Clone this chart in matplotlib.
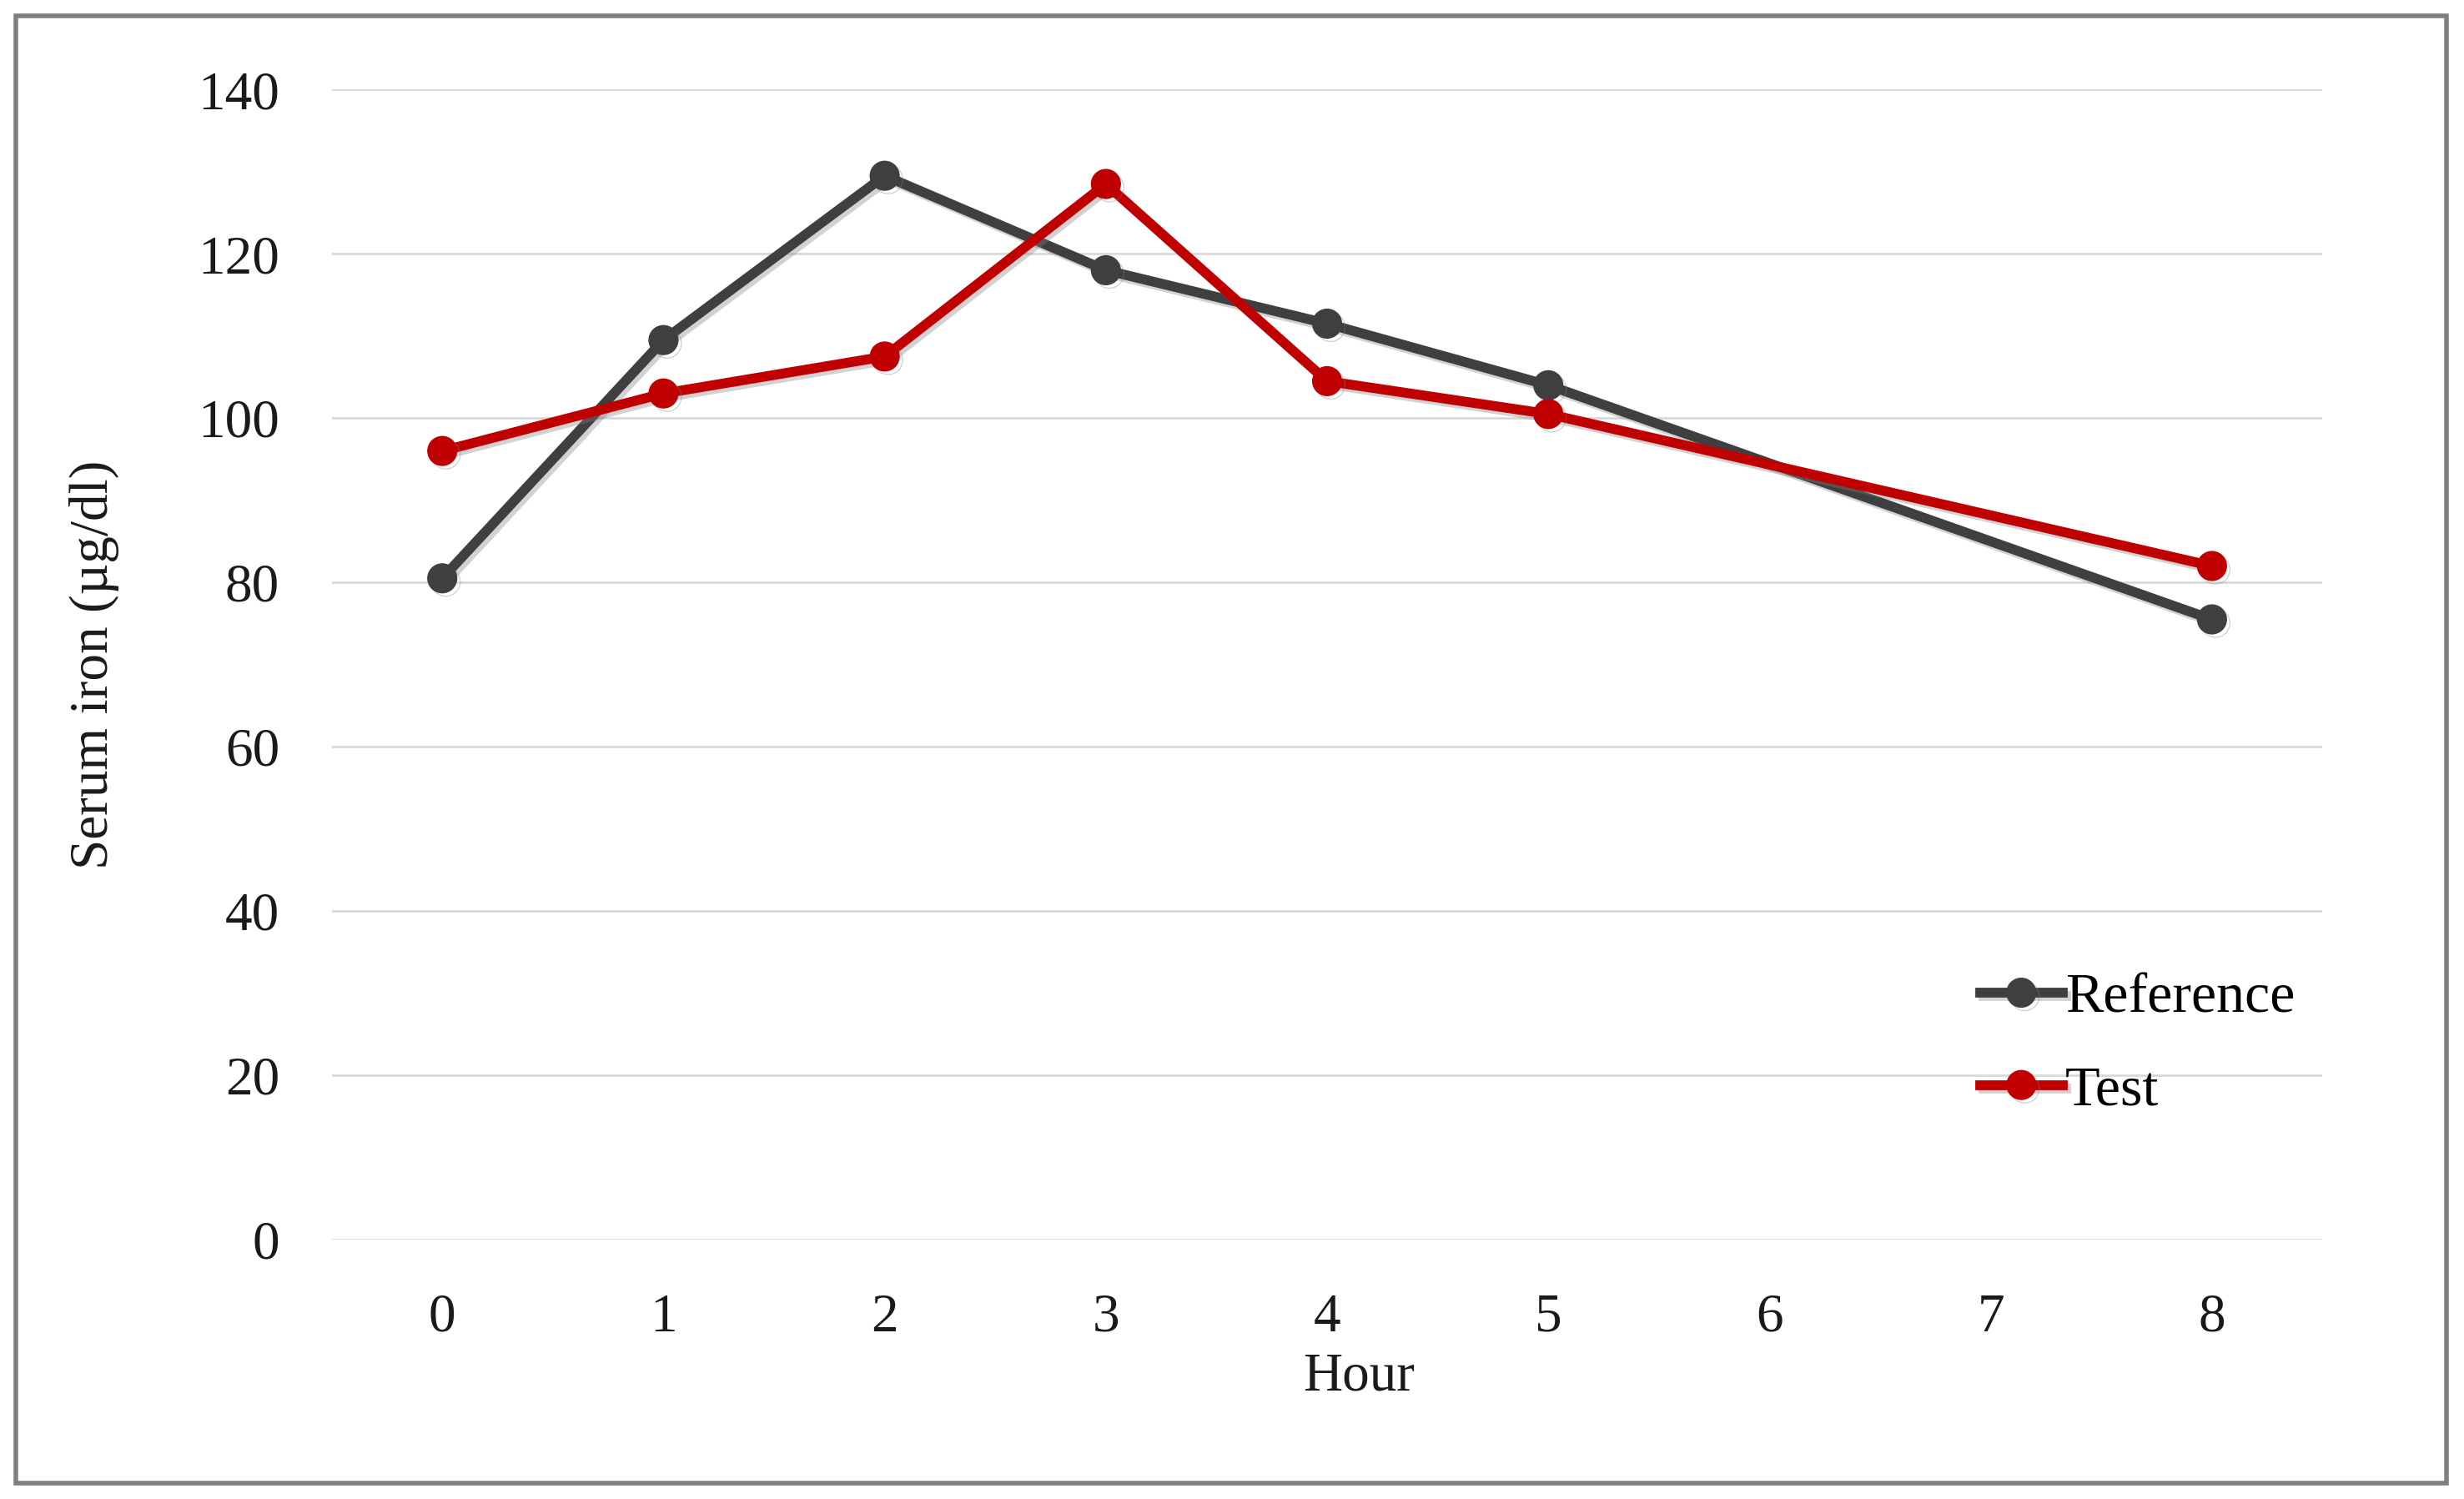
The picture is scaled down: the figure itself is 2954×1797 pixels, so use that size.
import matplotlib
matplotlib.use("Agg")
import matplotlib.pyplot as plt
import matplotlib.patheffects as pe
from matplotlib.patches import Rectangle

# Data
hours = [0, 1, 2, 3, 4, 5, 8]
reference = [80.5, 109.5, 129.5, 118.0, 111.5, 104.0, 75.5]
test = [96.0, 103.0, 107.5, 128.5, 104.5, 100.5, 82.0]
xticks = [0, 1, 2, 3, 4, 5, 6, 7, 8]
yticks = [0, 20, 40, 60, 80, 100, 120, 140]

plt.rcParams['font.family'] = ['Liberation Serif', 'DejaVu Serif']
FS = 47

fig = plt.figure(figsize=(29.54, 17.97), dpi=100)
ax = fig.add_axes([0.1346, 0.173, 0.808, 0.7673])

shadow = [pe.SimpleLineShadow(offset=(3, -3), shadow_color='gray', alpha=0.35), pe.Normal()]

ax.plot(hours, reference, '-o', color='#3f3f3f', lw=8.5, ms=25,
        label='Reference', path_effects=shadow, zorder=3)
ax.plot(hours, test, '-o', color='#c00000', lw=8.5, ms=25,
        label='Test', path_effects=shadow, zorder=4)

ax.set_xlim(-0.5, 8.5)
ax.set_ylim(0, 140)
ax.set_xticks(xticks)
ax.set_yticks(yticks)
ax.grid(axis='y', color='#d9d9d9', lw=2)
ax.set_axisbelow(True)
for s in ax.spines.values():
    s.set_visible(False)
ax.tick_params(length=0, labelsize=FS, colors='#1a1a1a')
ax.tick_params(axis='y', pad=45)
ax.tick_params(axis='x', pad=46)

ax.set_xlabel('Hour', fontsize=FS, color='#1a1a1a')
ax.xaxis.set_label_coords(0.516, -0.098)
ax.set_ylabel('Serum iron (µg/dl)', fontsize=FS, labelpad=68, color='#1a1a1a')

leg = ax.legend(loc='upper left', bbox_to_anchor=(0.828, 0.232), frameon=False,
                fontsize=49, handlelength=1.45, handletextpad=0.05,
                labelspacing=0.72, borderpad=0, borderaxespad=0)

# gray frame around the whole figure
fig.patches.append(Rectangle((0.0064, 0.0105), 0.9866, 0.979, transform=fig.transFigure,
                             fill=False, edgecolor='#808080', lw=4))

fig.savefig('out.png', dpi=100)
